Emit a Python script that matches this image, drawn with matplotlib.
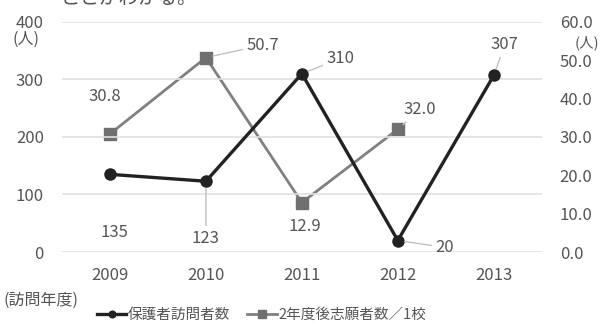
import matplotlib.pyplot as plt

plt.rcParams['font.family'] = ['Noto Sans CJK JP', 'DejaVu Sans']

years = ['2009', '2010', '2011', '2012', '2013']
visitors = [135, 123, 310, 20, 307]
applicants = [30.8, 50.7, 12.9, 32.0]
left_ticks = [0, 100, 200, 300, 400]
right_ticks = [0, 10, 20, 30, 40, 50, 60]

txt = '#555555'
fig = plt.figure(figsize=(6.08, 3.25), dpi=100)
ax = fig.add_axes([0.102, 0.2246, 0.789, 0.708])
ax2 = ax.twinx()

x = list(range(len(years)))
ax.plot(x, visitors, color='#222222', lw=2.4, marker='o', ms=8, zorder=3,
        label='保護者訪問者数')
ax2.plot(x[:len(applicants)], applicants, color='#808080', lw=2.0, marker='s',
         ms=9, mfc='#707070', mec='#707070', zorder=2, label='2年度後志願者数／1校')

ax.set_xlim(-0.5, 4.5)
ax.set_ylim(0, 400)
ax2.set_ylim(0, 60)
ax.set_yticks(left_ticks)
ax2.set_yticks(right_ticks)
ax2.set_yticklabels([f'{v:.1f}' for v in right_ticks])
ax.set_xticks(x)
ax.set_xticklabels(years)
ax.grid(axis='y', color='#e0e0e0', lw=1.2)
ax.set_axisbelow(True)
ax.set_zorder(ax2.get_zorder() + 1)
ax.patch.set_visible(False)
for a in (ax, ax2):
    for s in a.spines.values():
        s.set_visible(False)
    a.tick_params(length=0, labelsize=12, colors=txt)
ax.tick_params(axis='x', pad=11)
ax.tick_params(axis='y', pad=13)
ax2.tick_params(axis='y', pad=13)

# data labels (offsets in points) with leader lines
lead = dict(arrowstyle='-', color='#c0c0c0', lw=1, shrinkA=1, shrinkB=5)
vis_off = [(3, -42), (0, -41), (28, 11), (34, -5), (8, 22)]
for i, v in enumerate(visitors):
    ax.annotate(str(v), (i, v), xytext=vis_off[i], textcoords='offset points',
                ha='center', va='center', fontsize=12, color=txt,
                arrowprops=lead if i in (1, 2, 3, 4) else None)
app_off = [(-4, 27), (41, 9), (2, -17), (16, 14)]
for i, v in enumerate(applicants):
    ax2.annotate(f'{v:.1f}', (i, v), xytext=app_off[i], textcoords='offset points',
                 ha='center', va='center', fontsize=12, color=txt,
                 arrowprops=lead if i in (1, 3) else None)

fig.text(0.02, 0.865, '(人)', fontsize=11.5, color=txt)
fig.text(0.945, 0.868, '(人)', fontsize=10.5, color=txt, va='center')
fig.text(0.005, 0.077, '(訪問年度)', fontsize=11.5, color=txt, va='center')
fig.text(0.1, 1.005, 'ことがわかる。', fontsize=14, color=txt, va='center')

h1, l1 = ax.get_legend_handles_labels()
h2, l2 = ax2.get_legend_handles_labels()
fig.legend(h1 + h2, l1 + l2, loc='center', bbox_to_anchor=(0.43, 0.03), ncol=2,
           frameon=False, fontsize=10.5, labelcolor=txt, handlelength=2.0,
           handletextpad=0.1, columnspacing=1.2, markerscale=0.6,
           borderpad=0, borderaxespad=0)

fig.savefig('out.png', dpi=100)
